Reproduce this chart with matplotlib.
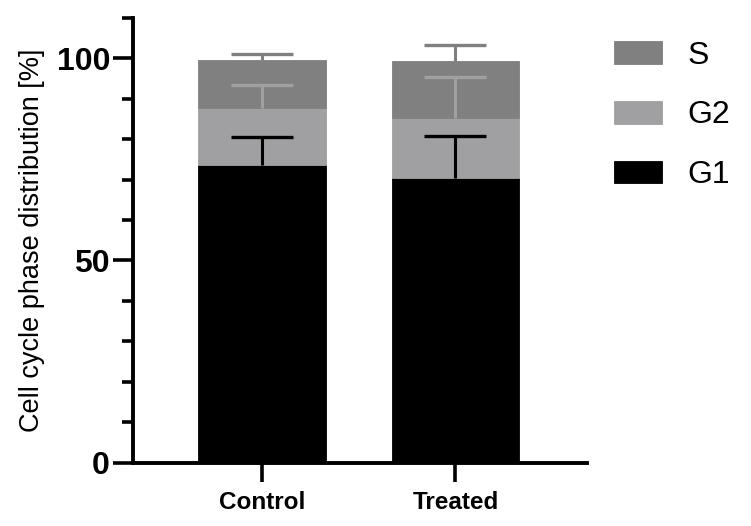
import matplotlib
matplotlib.use("Agg")
import matplotlib.pyplot as plt
import numpy as np

categories = ["Control", "Treated"]
phases = ["G1", "G2", "S"]
g1_mean = [73.6, 70.4]
g2_mean = [14.0, 14.9]
s_mean = [12.0, 14.0]
g1_err = [7.0, 10.4]
g2_err = [5.7, 9.9]
s_err = [1.5, 3.9]
colors = {"G1": "#000000", "G2": "#a0a0a3", "S": "#808080"}

plt.rcParams['font.family'] = ['Liberation Sans', 'DejaVu Sans']

fig = plt.figure(figsize=(7.51, 5.26), dpi=100)
ax = fig.add_axes([0.177, 0.1198, 0.7816 - 0.177, 0.9667 - 0.1198])

x = np.arange(len(categories))
width = 0.66
means = [g1_mean, g2_mean, s_mean]
errs = [g1_err, g2_err, s_err]
bottom = np.zeros(len(categories))
handles = []
for name, m, e in zip(phases, means, errs):
    m = np.array(m)
    h = ax.bar(x, m, width, bottom=bottom, color=colors[name], edgecolor=colors[name],
               linewidth=0.6, label=name, zorder=2)
    handles.append(h)
    top = bottom + m
    _, caps, _ = ax.errorbar(x, top, yerr=[np.zeros_like(m), np.array(e)], fmt='none',
                             ecolor=colors[name], elinewidth=2.2, capsize=22.5,
                             capthick=2.4, zorder=3)
    for c in caps:
        if np.allclose(c.get_ydata(), top):
            c.set_visible(False)
    bottom = top

ax.set_xlim(-0.668, 1.68)
ax.set_ylim(0, 110)
ax.set_yticks([0, 50, 100])
ax.set_yticks(np.arange(0, 111, 10), minor=True)
ax.set_xticks(x)
ax.set_xticklabels(categories, fontsize=17.5, fontweight='bold')
ax.tick_params(axis='y', which='major', labelsize=23, length=14.5, width=2.6, pad=2)
ax.tick_params(axis='y', which='minor', length=8, width=2.6)
ax.tick_params(axis='x', which='major', length=14, width=2.6, pad=6)
for lab in ax.get_yticklabels():
    lab.set_fontweight('bold')
for s in ['top', 'right']:
    ax.spines[s].set_visible(False)
for s in ['left', 'bottom']:
    ax.spines[s].set_linewidth(2.8)
ax.set_ylabel("Cell cycle phase distribution [%]", fontsize=19.5, labelpad=8)

leg = fig.legend(handles[::-1], phases[::-1], loc='upper left',
                 bbox_to_anchor=(601 / 751, 1 - 28 / 526), frameon=False,
                 fontsize=23, handlelength=1.5, handleheight=0.72,
                 handletextpad=0.8, labelspacing=0.93, borderaxespad=0)

fig.savefig("out.png", dpi=100)
